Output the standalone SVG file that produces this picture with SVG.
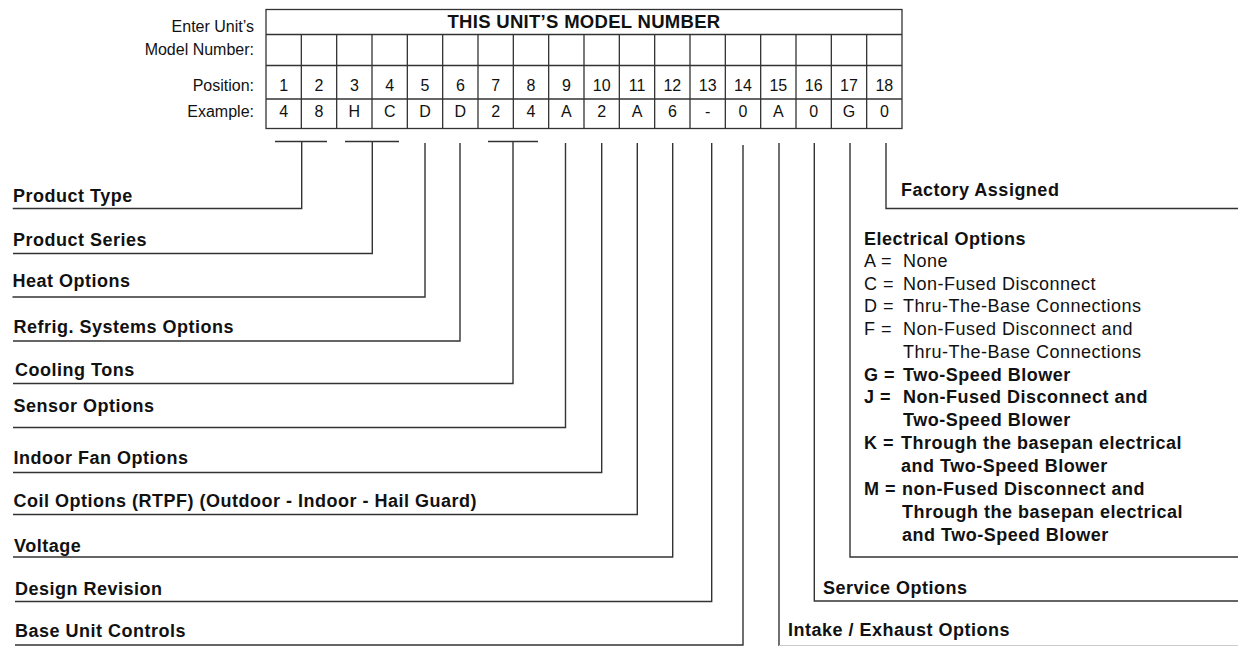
<svg xmlns="http://www.w3.org/2000/svg" width="1238" height="646" viewBox="0 0 1238 646">
<style>
.bg{fill:#fff}
.grid{fill:none;stroke:#333;stroke-width:1.3}
.ln{fill:none;stroke:#333;stroke-width:1.4}
.tt{font-family:"Liberation Sans",Arial,sans-serif;font-size:16px;fill:#111}
.c{text-anchor:middle}
.r{text-anchor:end}
.hd{font-family:"Liberation Sans",Arial,sans-serif;font-size:18.5px;font-weight:bold;letter-spacing:0.3px;fill:#111;text-anchor:middle}
.lb{font-family:"Liberation Sans",Arial,sans-serif;font-size:18px;font-weight:bold;letter-spacing:0.5px;fill:#111}
.rg{font-family:"Liberation Sans",Arial,sans-serif;font-size:18px;letter-spacing:0.5px;fill:#111}
</style>
<rect class="bg" x="0" y="0" width="1238" height="646"/>

<g id="table">
  <text class="tt r" x="254" y="32">Enter Unit’s</text>
  <text class="tt r" x="254" y="55">Model Number:</text>
  <text class="tt r" x="254" y="90.5">Position:</text>
  <text class="tt r" x="254" y="117">Example:</text>
  <rect class="grid" x="266" y="9.5" width="636" height="119"/>
  <line class="grid" x1="266" y1="34.5" x2="902" y2="34.5"/>
  <line class="grid" x1="266" y1="65.5" x2="902" y2="65.5"/>
  <line class="grid" x1="266" y1="99" x2="902" y2="99"/>
  <path class="grid" d="M301.33 34.5V128.5M336.67 34.5V128.5M372 34.5V128.5M407.33 34.5V128.5M442.67 34.5V128.5M478 34.5V128.5M513.33 34.5V128.5M548.67 34.5V128.5M584 34.5V128.5M619.33 34.5V128.5M654.67 34.5V128.5M690 34.5V128.5M725.33 34.5V128.5M760.67 34.5V128.5M796 34.5V128.5M831.33 34.5V128.5M866.67 34.5V128.5"/>
  <text class="hd" x="584" y="28">THIS UNIT’S MODEL NUMBER</text>
  <g class="tt c">
    <text x="283.67" y="90.5">1</text><text x="319" y="90.5">2</text><text x="354.33" y="90.5">3</text><text x="389.67" y="90.5">4</text><text x="425" y="90.5">5</text><text x="460.33" y="90.5">6</text><text x="495.67" y="90.5">7</text><text x="531" y="90.5">8</text><text x="566.33" y="90.5">9</text><text x="601.67" y="90.5">10</text><text x="637" y="90.5">11</text><text x="672.33" y="90.5">12</text><text x="707.67" y="90.5">13</text><text x="743" y="90.5">14</text><text x="778.33" y="90.5">15</text><text x="813.67" y="90.5">16</text><text x="849" y="90.5">17</text><text x="884.33" y="90.5">18</text>
    <text x="283.67" y="117">4</text><text x="319" y="117">8</text><text x="354.33" y="117">H</text><text x="389.67" y="117">C</text><text x="425" y="117">D</text><text x="460.33" y="117">D</text><text x="495.67" y="117">2</text><text x="531" y="117">4</text><text x="566.33" y="117">A</text><text x="601.67" y="117">2</text><text x="637" y="117">A</text><text x="672.33" y="117">6</text><text x="707.67" y="117">-</text><text x="743" y="117">0</text><text x="778.33" y="117">A</text><text x="813.67" y="117">0</text><text x="849" y="117">G</text><text x="884.33" y="117">0</text>
  </g>
</g>

<g id="connectors">
  <path class="ln" d="M275 141.5H327M301.7 141.5V208.5H12.7"/>
  <path class="ln" d="M345 141.5H399M372.3 141.5V253.5H13"/>
  <path class="ln" d="M425 143V297H12.5"/>
  <path class="ln" d="M460 143V341H13"/>
  <path class="ln" d="M488 141.5H538M513 141.5V383.5H13"/>
  <path class="ln" d="M565.5 143V427.5H13"/>
  <path class="ln" d="M601.7 143V472.5H13"/>
  <path class="ln" d="M637.3 143V514.5H13"/>
  <path class="ln" d="M672.7 143V557H13"/>
  <path class="ln" d="M711.7 143V601.5H15"/>
  <path class="ln" d="M743 145V645H15"/>
  <path class="ln" d="M779 143V646"/>
  <path fill="none" stroke="#ccc" stroke-width="1" d="M779 645.5H1238"/>
  <path class="ln" d="M814.3 143V601H1238"/>
  <path class="ln" d="M850 143V557H1238"/>
  <path class="ln" d="M886 143V208.5H1238"/>
</g>

<g id="product-type"><text class="lb" x="13" y="201.5">Product Type</text></g>
<g id="product-series"><text class="lb" x="13" y="246">Product Series</text></g>
<g id="heat-options"><text class="lb" x="12.5" y="287">Heat Options</text></g>
<g id="refrig-options"><text class="lb" x="13.5" y="333">Refrig. Systems Options</text></g>
<g id="cooling-tons"><text class="lb" x="15" y="376">Cooling Tons</text></g>
<g id="sensor-options"><text class="lb" x="13.5" y="412">Sensor Options</text></g>
<g id="indoor-fan"><text class="lb" x="13.5" y="463.5">Indoor Fan Options</text></g>
<g id="coil-options"><text class="lb" x="13.5" y="507">Coil Options (RTPF) (Outdoor - Indoor - Hail Guard)</text></g>
<g id="voltage"><text class="lb" x="14" y="552">Voltage</text></g>
<g id="design-revision"><text class="lb" x="15" y="594.5">Design Revision</text></g>
<g id="base-unit-controls"><text class="lb" x="15" y="637">Base Unit Controls</text></g>

<g id="factory-assigned"><text class="lb" x="901" y="196">Factory Assigned</text></g>
<g id="electrical-options">
  <text class="lb" x="864" y="244.5">Electrical Options</text>
  <text class="rg" x="864" y="267">A =</text><text class="rg" x="903" y="267">None</text>
  <text class="rg" x="864" y="289.5">C =</text><text class="rg" x="903" y="289.5">Non-Fused Disconnect</text>
  <text class="rg" x="864" y="312">D =</text><text class="rg" x="903" y="312">Thru-The-Base Connections</text>
  <text class="rg" x="864" y="335">F =</text><text class="rg" x="903" y="335">Non-Fused Disconnect and</text>
  <text class="rg" x="903" y="357.5">Thru-The-Base Connections</text>
  <text class="lb" x="864" y="380.5">G =</text><text class="lb" x="903" y="380.5">Two-Speed Blower</text>
  <text class="lb" x="864" y="403">J =</text><text class="lb" x="903" y="403">Non-Fused Disconnect and</text>
  <text class="lb" x="903" y="426">Two-Speed Blower</text>
  <text class="lb" x="864" y="449">K =</text><text class="lb" x="901" y="449">Through the basepan electrical</text>
  <text class="lb" x="901" y="471.5">and Two-Speed Blower</text>
  <text class="lb" x="864" y="494.5">M =</text><text class="lb" x="902" y="494.5">non-Fused Disconnect and</text>
  <text class="lb" x="902" y="517.5">Through the basepan electrical</text>
  <text class="lb" x="902" y="540.5">and Two-Speed Blower</text>
</g>
<g id="service-options"><text class="lb" x="823" y="593.5">Service Options</text></g>
<g id="intake-exhaust"><text class="lb" x="788" y="636">Intake / Exhaust Options</text></g>
</svg>
